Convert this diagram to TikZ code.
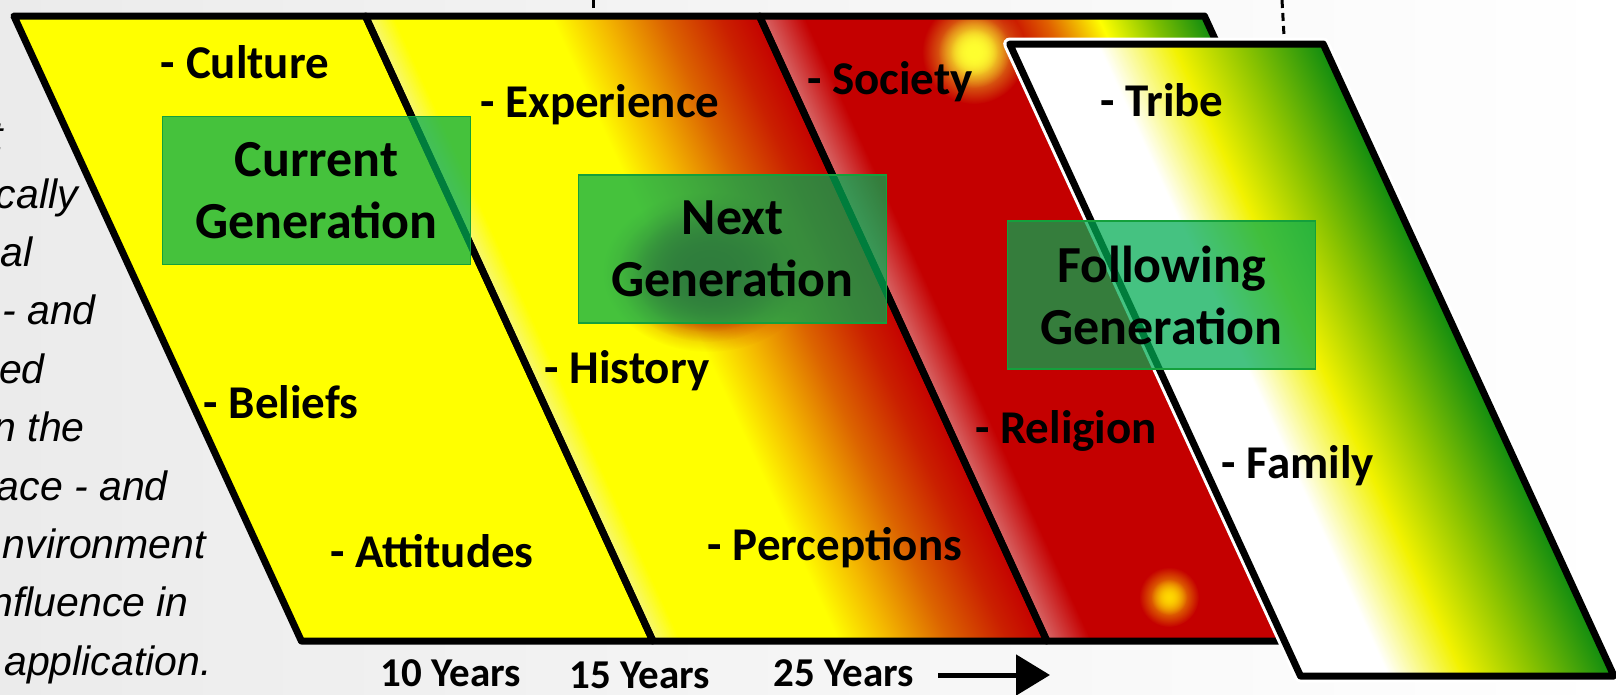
\documentclass[tikz,border=0pt]{standalone}
\usepackage{fontspec}
\setmainfont{Carlito}
\newfontfamily\arialfont{Liberation Sans}
\usetikzlibrary{arrows.meta,fadings}

\definecolor{bgL}{HTML}{EBEBEB}
\definecolor{pyel}{HTML}{FFFF00}
\definecolor{ptwoA}{HTML}{F6F67A}
\definecolor{ptwoB}{HTML}{F4B800}
\definecolor{ptwoC}{HTML}{DC6400}
\definecolor{ptwoD}{HTML}{CA2000}
\definecolor{pred}{HTML}{C40000}
\definecolor{pthrA}{HTML}{D86868}
\definecolor{pthrB}{HTML}{E06000}
\definecolor{pthrC}{HTML}{80C000}
\definecolor{pgreen}{HTML}{108C10}
\definecolor{pfourB}{HTML}{F2F200}
\definecolor{pfourC}{HTML}{8CC400}
\definecolor{boxfill}{HTML}{00AC53}
\definecolor{boxedge}{HTML}{14A03C}
\definecolor{glowY}{HTML}{FFFF30}
\definecolor{glowO}{HTML}{FFD800}
\definecolor{blobc}{HTML}{B00000}

\pgfdeclarehorizontalshading{ptwo}{100bp}{color(0bp)=(ptwoA); color(25bp)=(ptwoA); color(28.5bp)=(pyel); color(48.5bp)=(pyel); color(55bp)=(ptwoB); color(62.5bp)=(ptwoC); color(70bp)=(ptwoD); color(75bp)=(pred); color(100bp)=(pred)}
\pgfdeclarehorizontalshading{pthree}{100bp}{color(0bp)=(pthrA); color(25bp)=(pthrA); color(30bp)=(pred); color(52bp)=(pred); color(57bp)=(pthrB); color(63bp)=(pyel); color(69bp)=(pthrC); color(75bp)=(pgreen); color(100bp)=(pgreen)}
\pgfdeclarehorizontalshading{pfour}{100bp}{color(0bp)=(white); color(25bp)=(white); color(39bp)=(white); color(51bp)=(pfourB); color(62bp)=(pfourC); color(75bp)=(pgreen); color(100bp)=(pgreen)}
\tikzfading[name=glowfade, inner color=transparent!0, outer color=transparent!100]

\begin{document}
\begin{tikzpicture}[x=1pt,y=-1pt,
  pborder/.style={draw=black,line width=7pt,line join=round},
  genbox/.style={fill=boxfill,fill opacity=0.73,text opacity=1,draw=boxedge,line width=1.5pt,
    minimum width=308pt,minimum height=148pt,align=center,inner sep=0pt,
    font=\bfseries\fontsize{52}{62}\selectfont},
  lbl/.style={font=\bfseries\fontsize{47}{50}\selectfont,inner sep=0pt},
  yrs/.style={font=\bfseries\fontsize{41}{44}\selectfont,inner sep=0pt},
  side/.style={font=\arialfont\itshape\fontsize{41}{44}\selectfont,inner sep=0pt,anchor=base east},
  dashln/.style={draw=black,line width=3pt,dash pattern=on 8pt off 5pt}]
\useasboundingbox (0,0) rectangle (1616,694);
\shade[left color=bgL,right color=white] (0,0) rectangle (1616,694);

% corners
\coordinate (P1a) at (13.9,16);  \coordinate (P1b) at (365.4,16);
\coordinate (P1c) at (652.9,641); \coordinate (P1d) at (301.4,641);
\coordinate (P2a) at (365.4,16);  \coordinate (P2b) at (759.4,16);
\coordinate (P2c) at (1046.9,641); \coordinate (P2d) at (652.9,641);
\coordinate (P3a) at (759.4,16);  \coordinate (P3b) at (1204.4,16);
\coordinate (P3c) at (1491.9,641); \coordinate (P3d) at (1046.9,641);
\coordinate (P4a) at (1009.7,44); \coordinate (P4b) at (1323.2,44);
\coordinate (P4c) at (1614.0,676); \coordinate (P4d) at (1300.5,676);

% fills of the three back parallelograms
\begin{scope}[transform canvas={xslant=-0.46}]
  \shade[shading=pthree] (752,16) rectangle (1197,641);
  \shade[shading=ptwo] (358,16) rectangle (752,641);
  \fill[pyel] (6.5,16) rectangle (358,641);
\end{scope}

% glows
\begin{scope}
  \clip (P3a) -- (P3b) -- (P3c) -- (P3d) -- cycle;
  \fill[glowY,path fading=glowfade] (974,52) circle (52);
  \fill[glowY,path fading=glowfade] (974,52) circle (36);
  \fill[glowY,path fading=glowfade] (974,52) circle (24);
  \fill[glowO,path fading=glowfade] (1169,597) circle (30);
  \fill[glowO,path fading=glowfade] (1169,597) circle (18);
\end{scope}
\begin{scope}
  \clip (P2a) -- (P2b) -- (P2c) -- (P2d) -- cycle;
  \fill[blobc,path fading=glowfade] (708,272) ellipse [x radius=105,y radius=80];
  \fill[blobc,path fading=glowfade] (708,272) ellipse [x radius=90,y radius=70];
  \fill[blobc,path fading=glowfade] (708,272) ellipse [x radius=75,y radius=60];
\end{scope}

\draw[pborder] (P3a) -- (P3b) -- (P3c) -- (P3d) -- cycle;
\draw[pborder] (P2a) -- (P2b) -- (P2c) -- (P2d) -- cycle;
\draw[pborder] (P1a) -- (P1b) -- (P1c) -- (P1d) -- cycle;

% front parallelogram
\draw[white,line width=13pt,line join=round] (P4a) -- (P4b) -- (P4c) -- (P4d) -- cycle;
\begin{scope}[transform canvas={xslant=-0.46}]
  \shade[shading=pfour] (989.5,44) rectangle (1303,676);
\end{scope}
\draw[pborder] (P4a) -- (P4b) -- (P4c) -- (P4d) -- cycle;

% dashed fragments
\coordinate (d1a) at (593,0); \coordinate (d1b) at (593,13);
\coordinate (d2a) at (1282,0); \coordinate (d2b) at (1284,36);
\draw[dashln] (d1a) -- (d1b);
\draw[dashln] (d2a) -- (d2b);

% generation boxes
\node[genbox] (cur) at (316.5,190.5) {Current\\Generation};
\node[genbox] (nxt) at (732.5,249) {Next\\Generation};
\node[genbox] (fol) at (1161.5,295) {Following\\Generation};

% labels
\node[lbl] (culture) at (245,62) {- Culture};
\node[lbl] (beliefs) at (281,402) {- Beliefs};
\node[lbl] (attitudes) at (432,551) {- Attitudes};
\node[lbl] (experience) at (600,105) {- Experience};
\node[lbl] (history) at (627,371) {- History};
\node[lbl] (perceptions) at (835,548) {- Perceptions};
\node[lbl] (society) at (890,82) {- Society};
\node[lbl] (religion) at (1066,431) {- Religion};
\node[lbl] (tribe) at (1162,100) {- Tribe};
\node[lbl] (family) at (1298,466) {- Family};

% years
\node[yrs] (y10) at (451,673) {10 Years};
\node[yrs] (y15) at (640,675) {15 Years};
\node[yrs] (y25) at (844,673) {25 Years};
\coordinate (arrS) at (938,675);
\coordinate (arrE) at (1050,675);
\draw[line width=5pt,-{Triangle[length=34pt,width=40pt]}] (arrS) -- (arrE);

% side text (cut at the left edge)
\begin{scope}
  \clip (0,0) rectangle (1616,694);
  \node[side] (s0) at (3,150) {t};
  \node[side] (s1) at (78,208) {cally};
  \node[side] (s2) at (33,266.4) {al};
  \node[side] (s3) at (96,324.8) {- and};
  \node[side] (s4) at (45,383.2) {ed};
  \node[side] (s5) at (85,441.6) {n the};
  \node[side] (s6) at (168,500) {ace - and};
  \node[side] (s7) at (206,558.4) {nvironment};
  \node[side] (s8) at (189,616.8) {nfluence in};
  \node[side] (s9) at (212,675.2) {application.};
\end{scope}
\end{tikzpicture}
\end{document}
